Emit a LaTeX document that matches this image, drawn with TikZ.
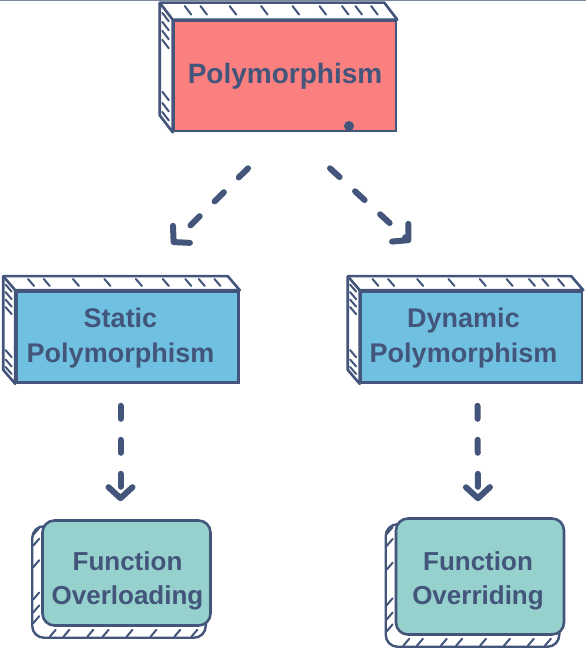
\documentclass[tikz,border=0pt]{standalone}
\usepackage{fontspec}
\setmainfont{Liberation Sans}
\usetikzlibrary{arrows.meta,calc,backgrounds}
\definecolor{ink}{HTML}{43557A}
\definecolor{salmon}{HTML}{FA8080}
\definecolor{sky}{HTML}{70C1E1}
\definecolor{mint}{HTML}{96D1CD}
\tikzset{
  face/.style={draw=ink, line width=2.6pt, text=ink, align=center, inner sep=0pt},
  tag/.style={text=ink, align=center, inner sep=0pt},
  hatch/.style={draw=ink, line width=2pt, line cap=round},
  flow/.style={draw=ink, line width=6pt, line cap=round, dash pattern=on 13pt off 21pt,
    -{Straight Barb[length=11pt,width=24pt,line join=round,line cap=round]}},
}
\newcommand{\slab}[3]{%
  \draw[ink, line width=2.6pt, line join=round, fill=white] (#1.south west) -- ++(#2,#3)
    -- ([shift={(#2,#3)}]#1.north west) -- ([shift={(#2,#3)}]#1.north east) -- (#1.north east)
    -- (#1.north west) -- cycle;
  \draw[ink, line width=2.6pt] (#1.north west) -- ++(#2,#3);
  \foreach \t in {.1,.17,.3,.44,.58,.7,.8,.86,.93}
    \draw[hatch] ($(#1.north west)!\t!(#1.north east)+(.8*#2,.8*#3)$) -- ++(-.5*#2,-.5*#3);
  \foreach \t in {.06,.14,.22,.3,.76,.86,.94}
    \draw[hatch] ($(#1.north west)!\t!(#1.south west)+(.8*#2,.8*#3)$) -- ++(-.5*#2,-.5*#3);
}
\newcommand{\stack}[1]{%
  \begin{scope}[on background layer]
  \draw[ink, line width=2.4pt, fill=white, rounded corners=12pt]
    ([shift={(-9,-7)}]#1.north west) rectangle ([shift={(-6,-11)}]#1.south east);
  \foreach \t in {.1,.2,.4,.7,.82,.92}
    \draw[hatch] ($(#1.north west)!\t!(#1.south west)+(-8,-5)$) -- ++(6,7);
  \foreach \t in {.05,.13,.27,.36,.5,.64,.78,.88}
    \draw[hatch] ($(#1.south west)!\t!(#1.south east)+(0,-10)$) -- ++(6,7);
  \end{scope}
}

\begin{document}
\begin{tikzpicture}[x=1pt,y=1pt]
\useasboundingbox (0,0) rectangle (586,658);
\draw[ink!70, line width=1.5pt] (0,657.6) -- (586,657.6);

\node[face, fill=salmon, minimum width=222pt, minimum height=110pt,
  font=\bfseries\fontsize{28}{34}\selectfont] (poly) at (285,582) {Polymorphism};
\slab{poly}{-13}{17}
\fill[ink] (349,532) circle (5pt);

\node[face, fill=sky, minimum width=222pt, minimum height=91pt,
  label={[tag, xshift=-7pt, yshift=-1pt, font=\bfseries\fontsize{27}{35}\selectfont]center:Static\\Polymorphism}]
  (static) at (127.5,321) {};
\slab{static}{-12}{14}
\node[face, fill=sky, minimum width=221pt, minimum height=91pt,
  label={[tag, xshift=-8pt, yshift=-1pt, font=\bfseries\fontsize{27}{35}\selectfont]center:Dynamic\\Polymorphism}]
  (dynamic) at (471.5,321) {};
\slab{dynamic}{-12}{14}

\node[face, fill=mint, rounded corners=12pt, minimum width=168pt, minimum height=105pt,
  label={[tag, xshift=1pt, yshift=-8pt, font=\bfseries\fontsize{26}{34}\selectfont]center:Function\\Overloading}]
  (overload) at (126.5,85) {};
\stack{overload}
\node[face, fill=mint, rounded corners=12pt, minimum width=168pt, minimum height=116pt,
  label={[tag, xshift=-2pt, yshift=-4pt, font=\bfseries\fontsize{26}{34}\selectfont]center:Function\\Overriding}]
  (override) at (480,81.5) {};
\stack{override}

\draw[flow] ([shift={(-37,-36)}]poly.south) -- ([shift={(44,46)}]static.north);
\draw[flow] ([shift={(45,-36)}]poly.south) -- ([shift={(-61,48)}]dynamic.north);
\draw[flow] ([shift={(-7,-22)}]static.south) -- ([shift={(-6,18)}]overload.north);
\draw[flow] ([shift={(6,-22)}]dynamic.south) -- ([shift={(-2,16)}]override.north);
\end{tikzpicture}
\end{document}
